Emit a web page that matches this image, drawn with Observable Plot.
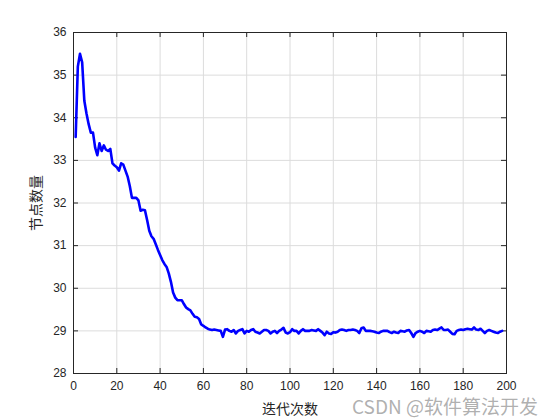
<!DOCTYPE html>
<html>
<head>
<meta charset="utf-8">
<script src="https://cdn.jsdelivr.net/npm/d3@7"></script>
<script src="https://cdn.jsdelivr.net/npm/@observablehq/plot@0.6"></script>
<style>
  html, body { margin: 0; padding: 0; background: #fff; }
  #wrap { position: relative; width: 560px; height: 420px; }
  #wm { position: absolute; left: 352px; top: 396px; font-family: "Noto Sans CJK SC", "Liberation Sans", sans-serif; font-size: 19px; line-height: 19px; color: rgba(150,150,150,0.75); white-space: nowrap; }
</style>
</head>
<body>
<div id="wrap"><div id="wm">CSDN @软件算法开发</div></div>
<script>
const xTitle = "迭代次数";
const yTitle = "节点数量";
const xTicks = [0, 20, 40, 60, 80, 100, 120, 140, 160, 180, 200];
const yTicks = [28, 29, 30, 31, 32, 33, 34, 35, 36];
const nodeCounts = [
  33.55, 35.2, 35.5, 35.3, 34.4, 34.1, 33.85, 33.65, 33.65, 33.3,
  33.12, 33.4, 33.22, 33.35, 33.25, 33.22, 33.27, 32.93, 32.88, 32.84,
  32.76, 32.93, 32.9, 32.76, 32.62, 32.4, 32.12, 32.12, 32.12, 32.06,
  31.82, 31.84, 31.83, 31.6, 31.35, 31.22, 31.16, 31.03, 30.9, 30.78,
  30.66, 30.57, 30.5, 30.35, 30.15, 29.9, 29.78, 29.72, 29.72, 29.72,
  29.63, 29.55, 29.51, 29.48, 29.4, 29.33, 29.32, 29.28, 29.15, 29.12,
  29.08, 29.05, 29.03, 29.02, 29.03, 29.02, 29.01, 29.0, 28.86, 29.03,
  29.04, 29.0, 28.98, 29.02, 28.94, 29.0, 29.02, 29.04, 28.94, 29.0,
  28.98, 29.02, 29.04, 28.98, 28.96, 28.94, 28.98, 29.02, 29.02, 29.0,
  28.94, 28.98, 29.0, 28.95, 29.0, 29.03, 29.07, 28.96, 28.94, 28.97,
  29.04, 29.0, 29.0, 28.94, 29.0, 29.04, 29.0, 29.0, 29.0, 29.02,
  29.01, 29.0, 29.04, 29.0, 28.96, 28.9, 28.98, 28.94, 28.93, 28.97,
  28.96, 28.98, 29.02, 29.03, 29.02, 29.0, 29.02, 29.02, 29.03, 29.02,
  29.0, 28.95, 29.06, 29.08, 29.0, 29.0, 29.0, 28.99, 28.98, 28.96,
  28.95, 28.98, 29.0, 29.0, 29.0, 28.97, 28.95, 28.98, 28.96, 28.95,
  29.0, 28.99, 28.98, 29.01, 29.02, 28.95, 28.86, 28.95, 28.98, 29.0,
  28.98, 28.95, 29.0, 28.99, 28.98, 29.02, 29.03, 29.02, 29.05, 29.08,
  29.02, 29.02, 29.03, 28.98, 28.93, 28.92, 29.0, 29.02, 29.03, 29.02,
  29.04, 29.05, 29.04, 29.03, 29.08, 29.03, 29.02, 29.05, 29.0, 28.95,
  29.0, 29.02, 29.0, 28.98, 28.96, 28.95, 28.98, 29.0
];
const iterations = d3.range(1, nodeCounts.length + 1);
const data = iterations.map((it, i) => ({iter: it, count: nodeCounts[i]}));

const W = 560, H = 420;
const mL = 73, mR = 54, mT = 32, mB = 47;
const plotW = W - mL - mR, plotH = H - mT - mB;
const tick = 5;
const axisColor = "#262626";

const chart = Plot.plot({
  width: W, height: H,
  marginLeft: mL, marginRight: mR, marginTop: mT, marginBottom: mB,
  style: {fontFamily: "'Liberation Sans', Arial, sans-serif", fontSize: "12px", color: axisColor, background: "#fff"},
  x: {domain: [0, 200]},
  y: {domain: [28, 36]},
  marks: [
    Plot.gridX(xTicks, {stroke: "#dcdcdc", strokeOpacity: 1}),
    Plot.gridY(yTicks, {stroke: "#dcdcdc", strokeOpacity: 1}),
    Plot.tickX(xTicks, {x: d => d, insetTop: plotH - tick, stroke: axisColor}),
    Plot.tickX(xTicks, {x: d => d, insetBottom: plotH - tick, stroke: axisColor}),
    Plot.tickY(yTicks, {y: d => d, insetRight: plotW - tick, stroke: axisColor}),
    Plot.tickY(yTicks, {y: d => d, insetLeft: plotW - tick, stroke: axisColor}),
    Plot.axisX(xTicks, {tickSize: 0, tickPadding: 8, label: xTitle, labelAnchor: "center", labelOffset: 40, labelArrow: false, fontSize: 12}),
    Plot.axisY(yTicks, {tickSize: 0, tickPadding: 7, label: yTitle, labelAnchor: "center", labelOffset: 42, labelArrow: false, fontSize: 12}),
    Plot.line(data, {x: "iter", y: "count", stroke: "#0000ff", strokeWidth: 2.6, strokeLinejoin: "round"}),
    Plot.frame({stroke: axisColor})
  ]
});
d3.select(chart).selectAll("g[aria-label='x-axis label'] text, g[aria-label='y-axis label'] text")
  .style("font-family", "'Noto Sans CJK SC', sans-serif").style("font-size", "14px");
document.getElementById("wrap").prepend(chart);
</script>
</body>
</html>
